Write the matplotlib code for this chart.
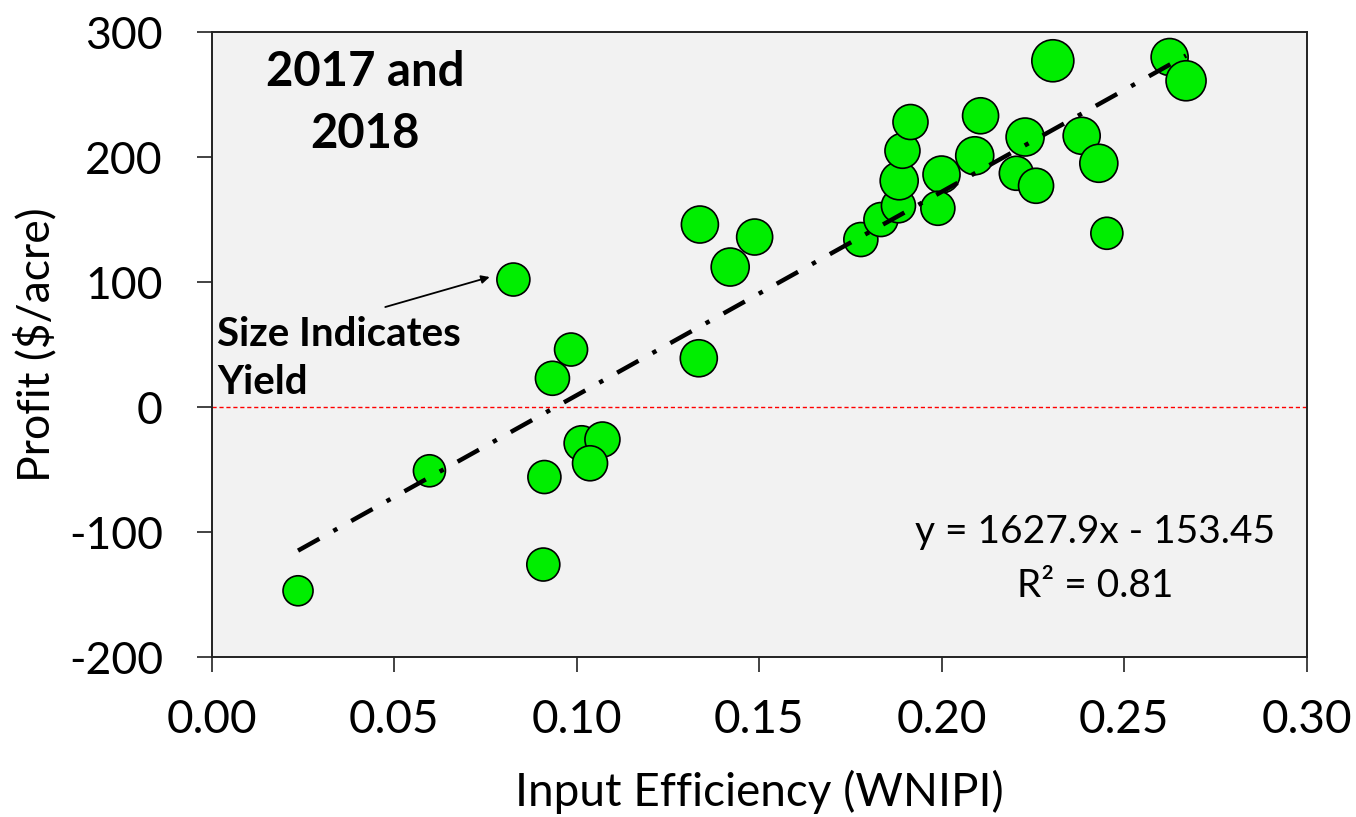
import numpy as np
import matplotlib
matplotlib.use("Agg")
import matplotlib.pyplot as plt

# ---- data ----
efficiency = [0.0237, 0.0597, 0.0827, 0.0985, 0.0934, 0.0912, 0.0909, 0.1014, 0.1071, 0.1037,
              0.1338, 0.1488, 0.1421, 0.1335, 0.1779, 0.1834, 0.1882, 0.1884, 0.1893, 0.1915,
              0.2000, 0.1990, 0.2091, 0.2107, 0.2229, 0.2205, 0.2259, 0.2384, 0.2431, 0.2453,
              0.2305, 0.2625, 0.2670]
profit = [-147, -51, 102, 46, 23, -56, -126, -29, -26, -45,
          146, 136, 112, 39, 134, 150, 161, 181, 205, 228,
          186, 159, 201, 233, 216, 187, 177, 217, 195, 139,
          277, 280, 261]
# relative bubble size (indicates yield)
yield_size = [30, 32, 33, 33, 34, 33, 33, 35, 35, 35,
              37, 36, 38, 37, 34, 34, 34, 38, 35, 35,
              37, 34, 38, 36, 38, 34, 35, 37, 38, 32,
              42, 37, 40]
slope = 1627.9
intercept = -153.45
r_squared = 0.81
x_ticks = [0.00, 0.05, 0.10, 0.15, 0.20, 0.25, 0.30]
y_ticks = [-200, -100, 0, 100, 200, 300]

FONT = "Lato"
DPI = 100
fig = plt.figure(figsize=(13.56, 8.17), dpi=DPI)
fig.patch.set_facecolor("white")
ax = fig.add_axes([0.156, 0.1958, 0.8075, 0.765])
ax.set_facecolor("#F2F2F2")

px2pt = 72.0 / DPI
sizes = [(d * px2pt) ** 2 for d in yield_size]
ax.scatter(efficiency, profit, s=sizes, c="#00EE00", edgecolors="black",
           linewidths=1.2, zorder=3)

# zero line
ax.axhline(0, color="#FF0000", lw=1.0, ls=(0, (3, 2)), zorder=2)

# trend line
xs = np.array([min(efficiency), max(efficiency)])
ax.plot(xs, slope * xs + intercept, color="black", lw=3.2,
        ls=(0, (5.5, 3.6, 1, 3.6)), zorder=4)

ax.set_xlim(0, 0.30)
ax.set_ylim(-200, 300)
ax.set_xticks(x_ticks)
ax.set_xticklabels([f"{v:.2f}" for v in x_ticks])
ax.set_yticks(y_ticks)
ax.set_yticklabels([str(v) for v in y_ticks])
ax.tick_params(axis="both", direction="out", length=11, width=1.2, color="#222222",
               labelsize=32)
ax.tick_params(axis="x", pad=19, labelsize=33)
ax.tick_params(axis="y", pad=24)
for lab in ax.get_xticklabels() + ax.get_yticklabels():
    lab.set_fontfamily(FONT)
for sp in ax.spines.values():
    sp.set_color("#222222")
    sp.set_linewidth(1.4)

ax.set_xlabel("Input Efficiency (WNIPI)", fontsize=33, fontfamily=FONT, labelpad=21)
ax.set_ylabel("Profit ($/acre)", fontsize=32, fontfamily=FONT, labelpad=8)

# annotations
ax.text(0.042, 243, "2017 and\n2018", fontsize=34, fontweight="bold", fontfamily=FONT,
        ha="center", va="center", linespacing=1.5)
ax.text(0.0015, 39, "Size Indicates\nYield", fontsize=29, fontweight="bold", fontfamily=FONT,
        ha="left", va="center", linespacing=1.35)
ax.annotate("", xy=(0.0762, 104), xytext=(0.0476, 80),
            arrowprops=dict(arrowstyle="-|>", color="black", lw=1.3,
                            mutation_scale=12, shrinkA=0, shrinkB=0))
ax.text(0.2422, -121.5, f"y = {slope}x - {abs(intercept)}\nR\u00b2 = {r_squared}",
        fontsize=28, fontfamily=FONT, ha="center", va="center", linespacing=1.6)

fig.savefig("out.png", dpi=DPI)
